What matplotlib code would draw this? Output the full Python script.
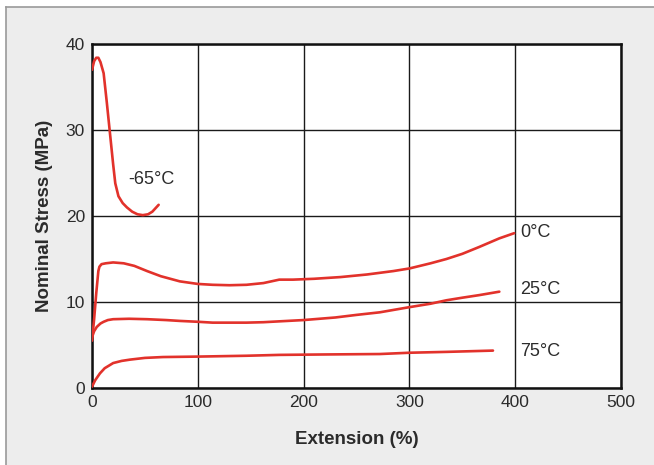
import matplotlib
matplotlib.use("Agg")
import matplotlib.pyplot as plt
from matplotlib.patches import Rectangle
from matplotlib.lines import Line2D

# ── Data ─────────────────────────────────────────────────────────────
x_m65 = [0, 2, 4, 6, 8, 11, 14, 17, 20, 22, 25, 29, 33, 38, 43, 48, 53, 57, 60, 63]
y_m65 = [37.0, 38.0, 38.4, 38.4, 37.9, 36.6, 33.2, 29.6, 26.0, 23.8, 22.3, 21.5,
         21.0, 20.5, 20.2, 20.1, 20.2, 20.5, 20.9, 21.3]

x_0 = [0, 2, 4, 6, 7, 9, 13, 20, 30, 40, 52, 65, 83, 100, 114, 130, 146, 162,
       177, 190, 210, 235, 260, 285, 300, 320, 335, 350, 366, 385, 399]
y_0 = [5.5, 8.0, 11.0, 13.6, 14.1, 14.4, 14.5, 14.6, 14.5, 14.2, 13.6, 13.0, 12.4,
       12.1, 12.0, 11.95, 12.0, 12.2, 12.6, 12.6, 12.7, 12.9, 13.2, 13.6, 13.9,
       14.5, 15.0, 15.6, 16.4, 17.4, 18.0]

x_25 = [0, 2, 4.5, 8, 11, 15, 20, 35, 52, 70, 83, 100, 114, 130, 146, 162, 177,
        200, 230, 250, 272, 300, 320, 335, 350, 366, 385]
y_25 = [5.9, 6.6, 7.1, 7.5, 7.7, 7.9, 8.0, 8.05, 8.0, 7.9, 7.8, 7.7, 7.6, 7.6,
        7.6, 7.65, 7.75, 7.9, 8.2, 8.5, 8.8, 9.4, 9.8, 10.2, 10.5, 10.8, 11.2]

x_75 = [0, 3, 7.5, 12, 20, 28, 36, 50, 67, 99, 146, 177, 220, 272, 300, 335, 379]
y_75 = [0.15, 0.9, 1.7, 2.3, 2.9, 3.15, 3.3, 3.5, 3.6, 3.65, 3.75, 3.85, 3.9,
        3.95, 4.1, 4.2, 4.35]

labels = ["-65°C", "0°C", "25°C", "75°C"]
label_x = [34, 405, 405, 405]
label_y = [24.2, 18.1, 11.5, 4.2]

x_ticks = [0, 100, 200, 300, 400, 500]
y_ticks = [0, 10, 20, 30, 40]

# ── Plot ─────────────────────────────────────────────────────────────
plt.rcParams["font.family"] = ["Liberation Sans", "DejaVu Sans"]
RED = "#e2322b"
TXT = "#2b2b2b"

fig = plt.figure(figsize=(6.54, 4.65), dpi=100, facecolor="white")

# scanned-page backdrop with its thin frame (behind the axes)
fig.patches.append(Rectangle((6 / 654, 0), 1, (465 - 7) / 465, transform=fig.transFigure,
                             facecolor="#ededed", edgecolor="none", zorder=-5))
fig.lines.append(Line2D([6 / 654, 6 / 654], [0, (465 - 7) / 465], transform=fig.transFigure,
                        color="#9a9a9a", lw=1.2, zorder=-4))
fig.lines.append(Line2D([6 / 654, 1], [(465 - 7) / 465] * 2, transform=fig.transFigure,
                        color="#9a9a9a", lw=1.2, zorder=-4))

ax = fig.add_axes([92 / 654, 1 - 388 / 465, (621 - 92) / 654, (388 - 44) / 465])
ax.set_facecolor("white")

for xs, ys in [(x_m65, y_m65), (x_0, y_0), (x_25, y_25), (x_75, y_75)]:
    ax.plot(xs, ys, color=RED, lw=1.9, solid_capstyle="round", zorder=3)

for t, lx, ly in zip(labels, label_x, label_y):
    ax.text(lx, ly, t, fontsize=13, color=TXT, ha="left", va="center")

ax.set_xlim(0, 500)
ax.set_ylim(0, 40)
ax.set_xticks(x_ticks)
ax.set_yticks(y_ticks)
ax.grid(True, color="#1a1a1a", lw=1.0)
ax.tick_params(length=0, labelsize=12.5, labelcolor=TXT, pad=5)
for s in ax.spines.values():
    s.set_linewidth(1.8)
    s.set_color("#111111")

ax.set_xlabel("Extension (%)", fontsize=13.5, fontweight="bold", color=TXT, labelpad=15)
ax.set_ylabel("Nominal Stress (MPa)", fontsize=13.5, fontweight="bold", color=TXT, labelpad=9)

fig.savefig("out.png", dpi=100)
